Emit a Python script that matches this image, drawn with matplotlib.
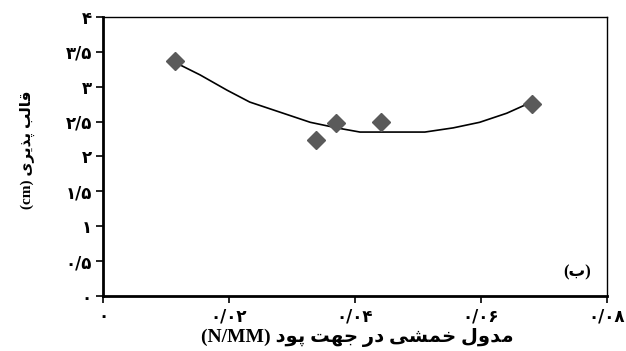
import matplotlib
matplotlib.use("Agg")
import matplotlib.pyplot as plt

# measured points
x_pts = [0.0114, 0.0338, 0.0370, 0.0441, 0.0681]
y_pts = [3.37, 2.24, 2.48, 2.49, 2.75]

# trend line
x_curve = [0.0114, 0.0154, 0.0197, 0.0233, 0.0286, 0.0329, 0.0371, 0.0408,
           0.0471, 0.0511, 0.0556, 0.0598, 0.0641, 0.0678]
y_curve = [3.35, 3.17, 2.95, 2.78, 2.62, 2.49, 2.41, 2.35,
           2.35, 2.35, 2.41, 2.49, 2.62, 2.77]

x_ticks = [0, 0.02, 0.04, 0.06, 0.08]
x_ticklabels = ["۰", "۰/۰۲", "۰/۰۴", "۰/۰۶", "۰/۰۸"]
y_ticks = [0, 0.5, 1, 1.5, 2, 2.5, 3, 3.5, 4]
y_ticklabels = ["۰", "۰/۵", "۱", "۱/۵", "۲", "۲/۵", "۳", "۳/۵", "۴"]

x_label_fa = "مدول خمشی در جهت پود"
y_label_fa = "قالب پذیری"
panel_fa = "ب"

# matplotlib has no arabic shaping, so pick the presentation forms by hand
# isolated, final, initial, medial
FORMS = {
    "ا": ("\uFE8D", "\uFE8E", None, None),
    "ب": ("\uFE8F", "\uFE90", "\uFE91", "\uFE92"),
    "پ": ("\uFB56", "\uFB57", "\uFB58", "\uFB59"),
    "ت": ("\uFE95", "\uFE96", "\uFE97", "\uFE98"),
    "ج": ("\uFE9D", "\uFE9E", "\uFE9F", "\uFEA0"),
    "خ": ("\uFEA5", "\uFEA6", "\uFEA7", "\uFEA8"),
    "د": ("\uFEA9", "\uFEAA", None, None),
    "ذ": ("\uFEAB", "\uFEAC", None, None),
    "ر": ("\uFEAD", "\uFEAE", None, None),
    "ش": ("\uFEB5", "\uFEB6", "\uFEB7", "\uFEB8"),
    "ق": ("\uFED5", "\uFED6", "\uFED7", "\uFED8"),
    "ل": ("\uFEDD", "\uFEDE", "\uFEDF", "\uFEE0"),
    "م": ("\uFEE1", "\uFEE2", "\uFEE3", "\uFEE4"),
    "ه": ("\uFEE9", "\uFEEA", "\uFEEB", "\uFEEC"),
    "و": ("\uFEED", "\uFEEE", None, None),
    "ی": ("\uFBFC", "\uFBFD", "\uFBFE", "\uFBFF"),
}


def shape(text):
    out = []
    for i, ch in enumerate(text):
        f = FORMS.get(ch)
        if f is None:
            out.append(ch)
            continue
        prev = text[i - 1] if i > 0 else None
        nxt = text[i + 1] if i < len(text) - 1 else None
        jp = prev in FORMS and FORMS[prev][2] is not None
        jn = nxt in FORMS and f[2] is not None
        if jp and jn:
            out.append(f[3])
        elif jp:
            out.append(f[1])
        elif jn:
            out.append(f[2])
        else:
            out.append(f[0])
    return "".join(reversed(out))


plt.rcParams["font.family"] = ["DejaVu Sans"]
plt.rcParams["font.weight"] = "bold"
label_fonts = ["Liberation Serif", "DejaVu Sans"]

fig = plt.figure(figsize=(6.26, 3.51), dpi=100)
ax = fig.add_axes([0.1645, 0.1567, 0.805, 0.795])

ax.plot(x_curve, y_curve, color="black", lw=1.2, zorder=2)
ax.plot(x_pts, y_pts, "D", color="#5a5a5a", ms=9, mec="#5a5a5a", zorder=3)

ax.set_xlim(0, 0.08)
ax.set_ylim(0, 4)
ax.set_xticks(x_ticks)
ax.set_xticklabels(x_ticklabels, fontsize=12, fontweight="bold")
ax.set_yticks(y_ticks)
ax.set_yticklabels(y_ticklabels, fontsize=12, fontweight="bold")
ax.tick_params(direction="out", length=5, width=1.2)
ax.tick_params(axis="x", pad=3)
ax.tick_params(axis="y", pad=3)

for s in ["left", "bottom"]:
    ax.spines[s].set_linewidth(2)
for s in ["top", "right"]:
    ax.spines[s].set_linewidth(1)

ax.set_xlabel("(N/MM) " + shape(x_label_fa), fontsize=14, fontweight="bold",
              family=label_fonts)
ax.xaxis.set_label_coords(0.504, -0.115)
ax.set_ylabel("(cm) " + shape(y_label_fa), fontsize=11, fontweight="bold",
              family=label_fonts)
ax.yaxis.set_label_coords(-0.135, 0.525)

ax.text(0.94, 0.085, "(" + shape(panel_fa) + ")", transform=ax.transAxes,
        fontsize=12, fontweight="bold", family=label_fonts,
        ha="center", va="center")

fig.savefig("out.png", dpi=100)
